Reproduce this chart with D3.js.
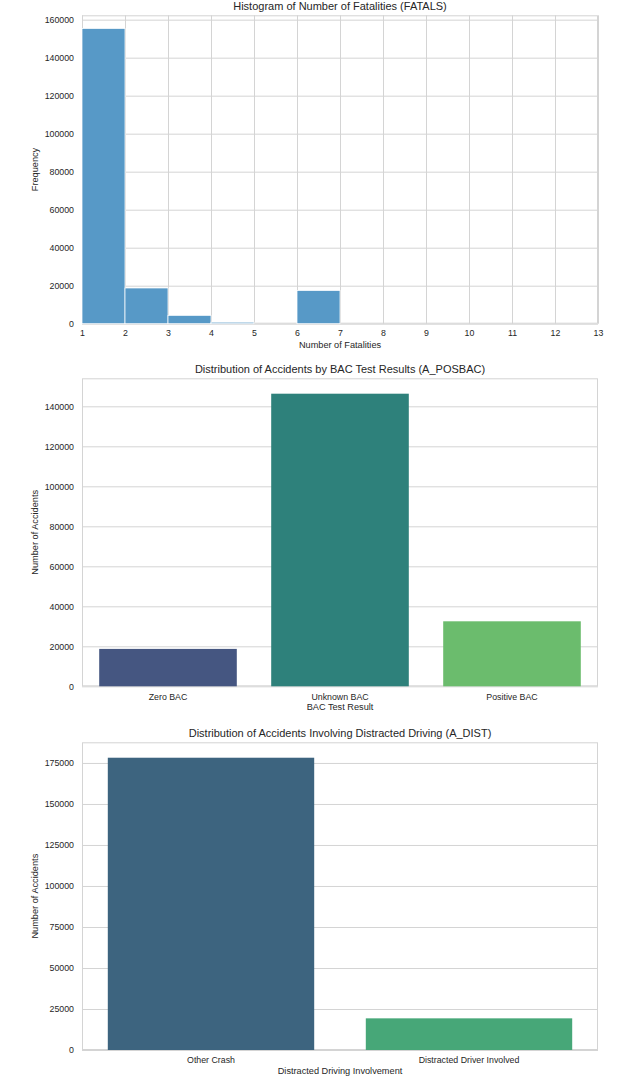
<!DOCTYPE html>
<html>
<head>
<meta charset="utf-8">
<script src="https://cdn.jsdelivr.net/npm/d3@7"></script>
<style>
  html, body { margin: 0; padding: 0; background: #fff; }
  svg { display: block; font-family: "Liberation Sans", Arial, sans-serif; }
</style>
</head>
<body>
<div id="chart"></div>
<script>
// data
const fatalBinEdges = [1, 2, 3, 4, 5, 6, 7, 8, 9, 10, 11, 12, 13];
const fatalCounts = [155400, 18800, 4400, 800, 0, 17500, 0, 0, 0, 0, 0, 0];
const fatalYTicks = [0, 20000, 40000, 60000, 80000, 100000, 120000, 140000, 160000];

const bacCategories = ['Zero BAC', 'Unknown BAC', 'Positive BAC'];
const bacCounts = [18700, 146300, 32500];
const bacYTicks = [0, 20000, 40000, 60000, 80000, 100000, 120000, 140000];

const distCategories = ['Other Crash', 'Distracted Driver Involved'];
const distCounts = [178200, 19300];
const distYTicks = [0, 25000, 50000, 75000, 100000, 125000, 150000, 175000];

const bacColors = ['#455681', '#2e817b', '#6bbc6d'];
const distColors = ['#3d647f', '#47a778'];
const histColor = '#5799c7';

const W = 635, H = 1078;
const left = 82, right = 598;
const grid = '#d4d4d4';
const text = '#262626';

const svg = d3.select('#chart').append('svg')
  .attr('width', W)
  .attr('height', H);

function panel(cfg) {
  const g = svg.append('g');
  const y = d3.scaleLinear().domain([0, cfg.ymax]).range([cfg.bottom, cfg.top]);

  // horizontal grid + y tick labels
  const yAxis = g.append('g')
    .attr('transform', `translate(${left},0)`)
    .call(d3.axisLeft(y).tickValues(cfg.yTicks).tickFormat(d3.format('d'))
      .tickSize(-(right - left)).tickPadding(8));
  yAxis.select('.domain').remove();
  yAxis.selectAll('line').attr('stroke', grid);
  yAxis.selectAll('text').attr('fill', text).style('font-size', '8.8px');

  // frame
  g.append('rect')
    .attr('x', left + 0.5).attr('y', cfg.top + 0.5)
    .attr('width', right - left - 1).attr('height', cfg.bottom - cfg.top - 1)
    .attr('fill', 'none').attr('stroke', grid);

  g.append('text')
    .text(cfg.title)
    .attr('x', (left + right) / 2)
    .attr('y', cfg.top - 5.5)
    .attr('text-anchor', 'middle')
    .attr('fill', text)
    .style('font-size', '11px');

  g.append('text')
    .text(cfg.xLabel)
    .attr('x', (left + right) / 2)
    .attr('y', cfg.bottom + 24)
    .attr('text-anchor', 'middle')
    .attr('fill', text)
    .style('font-size', '9.2px');

  g.append('text')
    .text(cfg.yLabel)
    .attr('transform', `translate(38,${(cfg.top + cfg.bottom) / 2}) rotate(-90)`)
    .attr('text-anchor', 'middle')
    .attr('fill', text)
    .style('font-size', '9.2px');

  return { g, y };
}

// 1. histogram
(function () {
  const p = panel({
    top: 15.3, bottom: 323.7, ymax: 162300, yTicks: fatalYTicks,
    title: 'Histogram of Number of Fatalities (FATALS)',
    xLabel: 'Number of Fatalities', yLabel: 'Frequency'
  });
  const x = d3.scaleLinear().domain([fatalBinEdges[0], fatalBinEdges[fatalBinEdges.length - 1]]).range([left, right]);

  const xAxis = p.g.append('g')
    .attr('transform', 'translate(0,323.7)')
    .call(d3.axisBottom(x).tickValues(fatalBinEdges).tickSize(-(323.7 - 15.3)).tickPadding(6));
  xAxis.select('.domain').remove();
  xAxis.selectAll('line').attr('stroke', grid);
  xAxis.selectAll('text').attr('fill', text).style('font-size', '8.8px');

  const bins = fatalCounts.map((c, i) => ({ x0: fatalBinEdges[i], x1: fatalBinEdges[i + 1], c }));
  p.g.selectAll('.bar')
    .data(bins.filter(d => d.c > 0))
    .join('rect')
    .attr('class', 'bar')
    .attr('x', d => x(d.x0))
    .attr('width', d => x(d.x1) - x(d.x0))
    .attr('y', d => p.y(d.c))
    .attr('height', d => p.y(0) - p.y(d.c))
    .attr('fill', histColor)
    .attr('stroke', '#fff')
    .attr('stroke-width', 0.75);
})();

function barPanel(cfg, cats, vals, colors) {
  const p = panel(cfg);
  const x = d3.scaleBand().domain(cats).range([left, right]).paddingInner(0.2).paddingOuter(0.1);

  const xAxis = p.g.append('g')
    .attr('transform', `translate(0,${cfg.bottom})`)
    .call(d3.axisBottom(x).tickSize(0).tickPadding(7));
  xAxis.select('.domain').remove();
  xAxis.selectAll('text').attr('fill', text).style('font-size', '8.8px');

  p.g.selectAll('.bar')
    .data(cats)
    .join('rect')
    .attr('class', 'bar')
    .attr('x', d => x(d))
    .attr('width', x.bandwidth())
    .attr('y', (d, i) => p.y(vals[i]))
    .attr('height', (d, i) => p.y(0) - p.y(vals[i]))
    .attr('fill', (d, i) => colors[i]);
}

// 2. BAC
barPanel({
  top: 378.3, bottom: 686.3, ymax: 154000, yTicks: bacYTicks,
  title: 'Distribution of Accidents by BAC Test Results (A_POSBAC)',
  xLabel: 'BAC Test Result', yLabel: 'Number of Accidents'
}, bacCategories, bacCounts, bacColors);

// 3. distracted driving
barPanel({
  top: 742.3, bottom: 1050, ymax: 187600, yTicks: distYTicks,
  title: 'Distribution of Accidents Involving Distracted Driving (A_DIST)',
  xLabel: 'Distracted Driving Involvement', yLabel: 'Number of Accidents'
}, distCategories, distCounts, distColors);
</script>
</body>
</html>
